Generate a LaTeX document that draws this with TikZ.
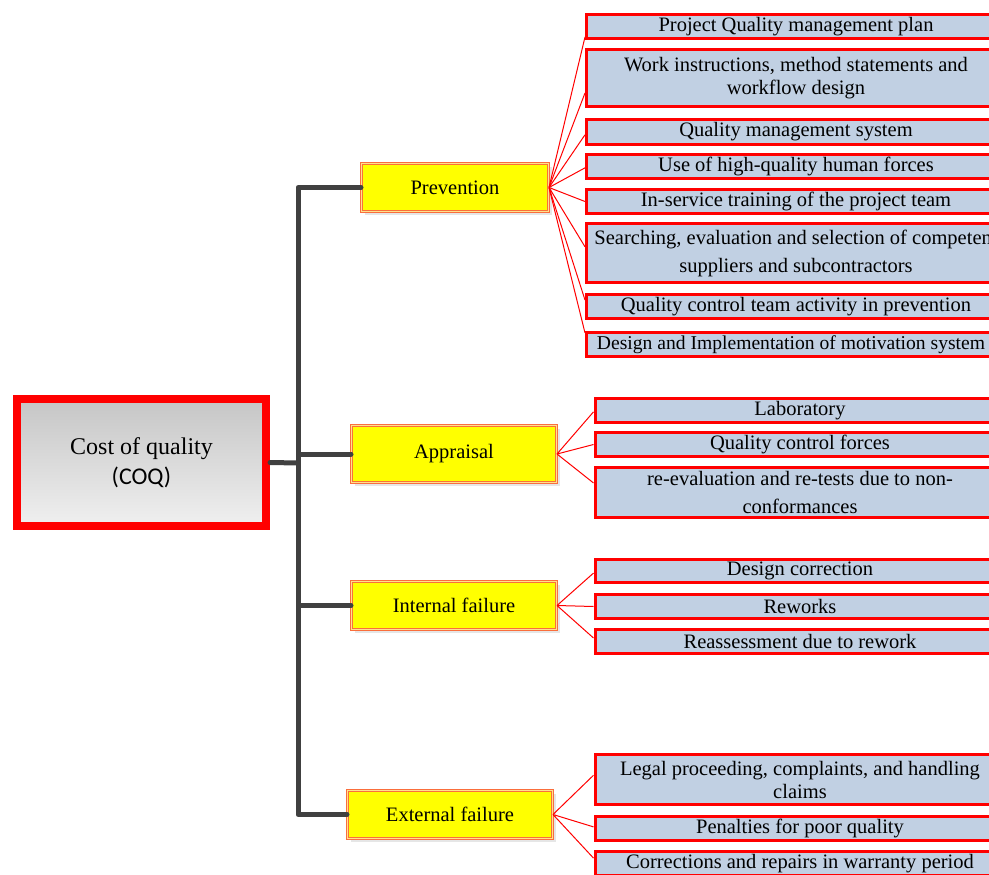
\documentclass[tikz,border=0pt]{standalone}
\usepackage{fontspec}
\setmainfont{Liberation Serif}
\newfontfamily\coqfont{Carlito}
\usepackage{tikz}
\usetikzlibrary{calc,shadows}
\definecolor{itemblue}{RGB}{193,208,227}
\definecolor{trunkgray}{RGB}{64,64,64}
\definecolor{branchline}{RGB}{250,110,60}
\definecolor{branchgap}{RGB}{255,225,140}
\definecolor{branchfill}{RGB}{255,255,0}
\tikzset{
    cost-box/.style = {draw=red, line width=8pt, top color=gray!45, bottom color=gray!12, minimum width=249pt, minimum height=127pt, align=center, font=\fontsize{24}{28}\selectfont, drop shadow={opacity=0.2, shadow xshift=3pt, shadow yshift=-3pt}},
    branch-box/.style = {draw=branchline, line width=1pt, double=branchgap, double distance=1.8pt, fill=branchfill, minimum width=187pt, minimum height=48pt, font=\fontsize{20.5}{23}\selectfont, drop shadow={opacity=0.2, shadow xshift=3pt, shadow yshift=-3pt}},
    item-box/.style = {draw=red, line width=3pt, fill=itemblue, minimum width=419pt, minimum height=24pt, inner xsep=2pt, inner ysep=1pt, align=center, font=\fontsize{20.5}{23}\selectfont},
    trunk-line/.style = {draw=trunkgray, line width=5pt, line cap=round, line join=round},
    twig-line/.style = {draw=red, line width=1pt},
}

\begin{document}
\begin{tikzpicture}[x=1pt,y=-1pt]
\clip (0,0) rectangle (989,875);

\node[cost-box] (coq) at (141.5,462.5) {Cost of quality\\[2pt]{\coqfont (COQ)}};

\node[branch-box] (prevention) at (455,187.5) {Prevention};
\node[branch-box, minimum width=205pt, minimum height=57pt] (appraisal) at (454,454) {Appraisal};
\node[branch-box, minimum width=205pt] (internal) at (454,605.5) {Internal failure};
\node[branch-box, minimum width=205pt] (external) at (450,814.5) {External failure};

\node[item-box] (p1) at (796,26.5) {Project Quality management plan};
\node[item-box, minimum height=57pt] (p2) at (796,78) {Work instructions, method statements and\\workflow design};
\node[item-box, minimum height=25pt] (p3) at (796,132) {Quality management system};
\node[item-box] (p4) at (796,166.5) {Use of high-quality human forces};
\node[item-box] (p5) at (796,201.5) {In-service training of the project team};
\node[item-box, minimum height=59pt] (p6) at (796,253) {Searching, evaluation and selection of competent\\[5pt]suppliers and subcontractors};
\node[item-box] (p7) at (796,306.5) {Quality control team activity in prevention};
\node[item-box, font=\fontsize{19.6}{23}\selectfont] (p8) at (796,344.5) {Design and Implementation of motivation system\hspace{10pt}};

\node[item-box, minimum width=410pt] (a1) at (800,410.5) {Laboratory};
\node[item-box, minimum width=410pt] (a2) at (800,444.5) {Quality control forces};
\node[item-box, minimum width=410pt, minimum height=50pt] (a3) at (800,492.5) {re-evaluation and re-tests due to non-\\[5pt]conformances};

\node[item-box, minimum width=410pt, minimum height=23pt] (i1) at (800,571) {Design correction};
\node[item-box, minimum width=410pt] (i2) at (800,606.5) {Reworks};
\node[item-box, minimum width=410pt] (i3) at (800,641.5) {Reassessment due to rework};

\node[item-box, minimum width=410pt, minimum height=50pt] (e1) at (800,779.5) {Legal proceeding, complaints, and handling\\claims};
\node[item-box, minimum width=410pt] (e2) at (800,828.5) {Penalties for poor quality};
\node[item-box, minimum width=410pt] (e3) at (800,863.5) {Corrections and repairs in warranty period};

\coordinate (hub) at (298,463);
\draw[trunk-line] (coq.east) -- (hub);
\foreach \h in {prevention,appraisal,internal,external}
    \draw[trunk-line] (hub) |- (\h.west);

\foreach \b/\f in {p1/0.89,p2/0.75,p3/0.6,p4/0.55,p5/0.5,p6/0.4,p7/0.26,p8/0.07}
    \draw[twig-line] (prevention.east) -- ($(\b.north west)!\f!(\b.south west)$);
\foreach \b/\f in {a1/0.55,a2/0.5,a3/0.32}
    \draw[twig-line] (appraisal.east) -- ($(\b.north west)!\f!(\b.south west)$);
\foreach \b/\f in {i1/0.58,i2/0.5,i3/0.37}
    \draw[twig-line] (internal.east) -- ($(\b.north west)!\f!(\b.south west)$);
\foreach \b/\f in {e1/0.42,e2/0.44,e3/0.3}
    \draw[twig-line] (external.east) -- ($(\b.north west)!\f!(\b.south west)$);
\end{tikzpicture}
\end{document}
